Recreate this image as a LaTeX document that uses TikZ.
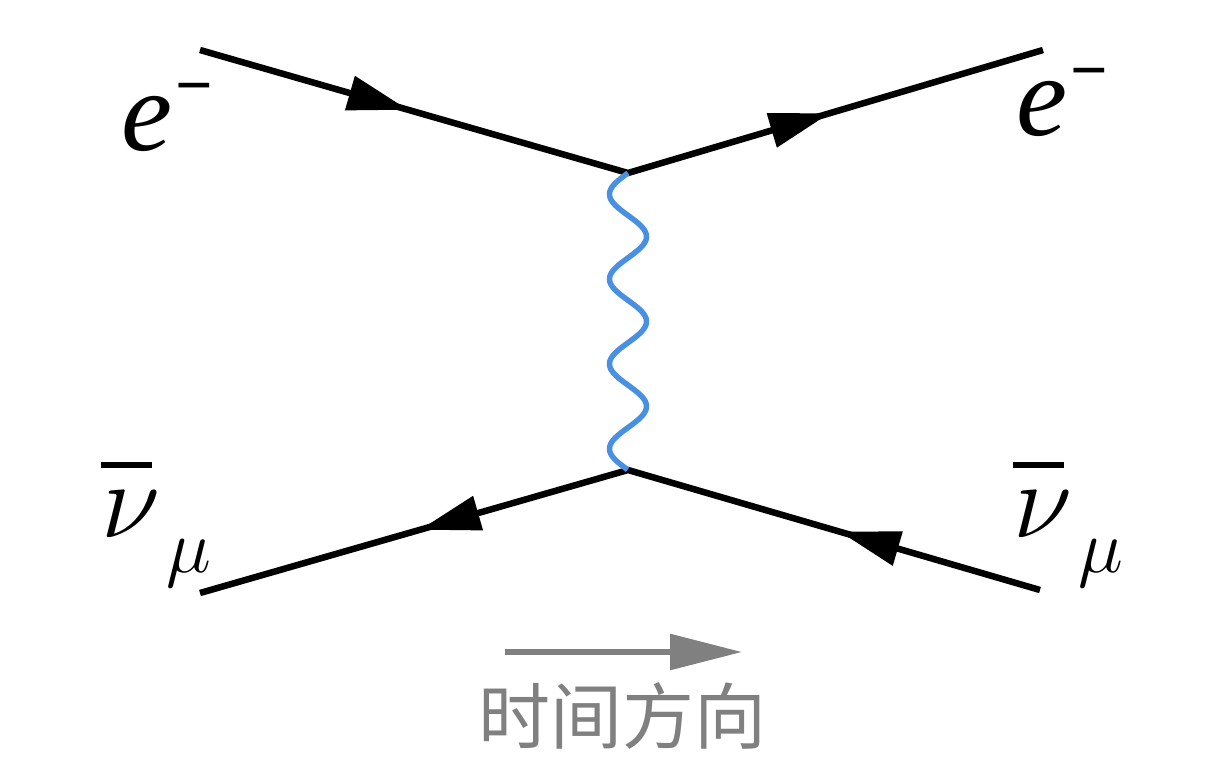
\RequirePackage{fix-cm}
\documentclass[tikz,border=0pt]{standalone}
\usepackage{fontspec}
\newfontfamily\labfont{Liberation Serif}
\newfontfamily\cjkfont{Noto Sans CJK SC}
\usetikzlibrary{calc,arrows.meta}
\definecolor{wblue}{HTML}{4A90E2}
\definecolor{tgrey}{HTML}{808080}
\tikzset{
  fermion/.style={line width=6.5pt, black},
  wboson/.style={line width=5.5pt, wblue},
  timearrow/.style={line width=6pt, tgrey, -{Triangle[length=72pt,width=35pt]}},
  partlabel/.style={anchor=base west, inner sep=0pt, outer sep=0pt},
}
\newcommand\fermarrow[2]{%
  \coordinate (tip) at ($(#1)!0.485!(#2)$);
  \coordinate (bas) at ($(tip)!60pt!(#1)$);
  \fill[black] ($(bas)!18pt!90:(tip)$) -- (tip) -- ($(bas)!18pt!-90:(tip)$) -- cycle;}
\newcommand\elab{{\labfont\fontsize{115}{115}\selectfont\itshape e\hspace{3pt}\raisebox{43pt}{\fontsize{66}{66}\selectfont\upshape\bfseries −}}}
\newcommand\nulab{{\fontsize{108}{108}\selectfont\rlap{\raisebox{69.5pt}{\rule{51pt}{5.5pt}}}$\nu$\hspace{6pt}\raisebox{-35pt}{\fontsize{76}{76}\selectfont$\mu$}}}
\begin{document}
\begin{tikzpicture}[x=1pt,y=-1pt]
\useasboundingbox (0,0) rectangle (1218,758);
\coordinate (TL) at (200,50);
\coordinate (V1) at (628,173);
\coordinate (TR) at (1043,50);
\coordinate (BL) at (200,593);
\coordinate (V2) at (628,470);
\coordinate (BR) at (1040,590);
\coordinate (T1) at (505,652);
\coordinate (T2) at (742,652);
% fermion lines
\draw[fermion] (TL) -- (V1) -- (TR);
\draw[fermion] (BL) -- (V2) -- (BR);
\fermarrow{TL}{V1}
\fermarrow{V1}{TR}
\fermarrow{V2}{BL}
\fermarrow{BR}{V2}
% boson
\draw[wboson] let \p1=(V1), \p2=(V2) in
  plot[variable=\t, domain=0:1, samples=200, smooth]
  ({\x1-18.5pt*sin(1260*\t)}, {\y1+(\y2-\y1)*\t});
% labels
\node[partlabel] (eL) at (121,150) {\elab};
\node[partlabel] (eR) at (1016,135) {\elab};
\node[partlabel] (nL) at (101,537) {\nulab};
\node[partlabel] (nR) at (1013,537) {\nulab};
% time arrow
\draw[timearrow] (T1) -- (T2);
\node[inner sep=0pt, text=tgrey, font=\cjkfont\fontsize{72}{72}\selectfont] (time) at (622,716) {时间方向};
\end{tikzpicture}
\end{document}
